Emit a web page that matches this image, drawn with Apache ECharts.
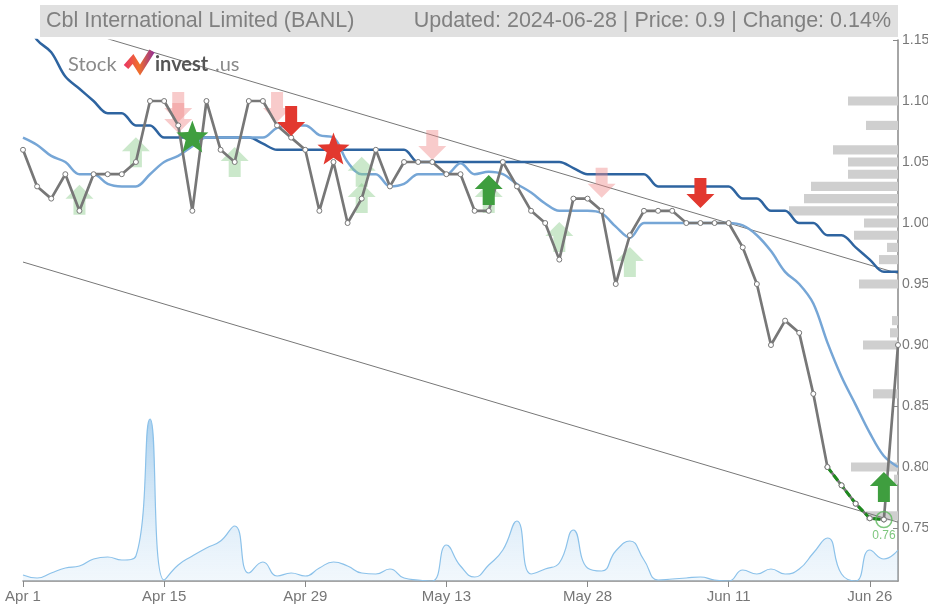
<!DOCTYPE html>
<html>
<head>
<meta charset="utf-8">
<script src="https://cdn.jsdelivr.net/npm/echarts@6/dist/echarts.min.js"></script>
<style>
  html, body { margin: 0; padding: 0; background: #fff; }
  #chart { width: 928px; height: 608px; }
</style>
</head>
<body>
<div id="chart"></div>
<script>
// === Данные
const dates = [
  'Apr 1', 'Apr 2', 'Apr 3', 'Apr 4', 'Apr 5', 'Apr 8', 'Apr 9', 'Apr 10', 'Apr 11', 'Apr 12',
  'Apr 15', 'Apr 16', 'Apr 17', 'Apr 18', 'Apr 19', 'Apr 22', 'Apr 23', 'Apr 24', 'Apr 25', 'Apr 26',
  'Apr 29', 'Apr 30', 'May 1', 'May 2', 'May 3', 'May 6', 'May 7', 'May 8', 'May 9', 'May 10',
  'May 13', 'May 14', 'May 15', 'May 16', 'May 17', 'May 20', 'May 21', 'May 22', 'May 23', 'May 24',
  'May 28', 'May 29', 'May 30', 'May 31', 'Jun 3', 'Jun 4', 'Jun 5', 'Jun 6', 'Jun 7', 'Jun 10',
  'Jun 11', 'Jun 12', 'Jun 13', 'Jun 14', 'Jun 17', 'Jun 18', 'Jun 20', 'Jun 21', 'Jun 24', 'Jun 25',
  'Jun 26', 'Jun 27', 'Jun 28'
];

const closePrices = [
  1.06, 1.03, 1.02, 1.04, 1.01, 1.04, 1.04, 1.04, 1.05, 1.10,
  1.10, 1.08, 1.01, 1.10, 1.06, 1.05, 1.10, 1.10, 1.08, 1.07,
  1.06, 1.01, 1.05, 1.00, 1.02, 1.06, 1.03, 1.05, 1.05, 1.05,
  1.04, 1.04, 1.01, 1.01, 1.05, 1.03, 1.01, 1.00, 0.97, 1.02,
  1.02, 1.01, 0.95, 0.99, 1.01, 1.01, 1.01, 1.00, 1.00, 1.00,
  1.00, 0.98, 0.95, 0.90, 0.92, 0.91, 0.86, 0.80, 0.785, 0.77,
  0.758, 0.757, 0.90
];

// верхняя линия (тёмно-синяя)
const upperLine = [
  1.17, 1.15, 1.14, 1.12, 1.11, 1.10, 1.09, 1.09, 1.08, 1.08,
  1.07, 1.07, 1.07, 1.07, 1.07, 1.07, 1.07, 1.065, 1.06, 1.06,
  1.06, 1.06, 1.06, 1.06, 1.06, 1.06, 1.06, 1.06, 1.05, 1.05,
  1.05, 1.05, 1.05, 1.05, 1.05, 1.05, 1.05, 1.05, 1.05, 1.045,
  1.04, 1.04, 1.04, 1.04, 1.04, 1.03, 1.03, 1.03, 1.03, 1.03,
  1.03, 1.02, 1.02, 1.01, 1.01, 1.00, 1.00, 0.99, 0.99, 0.98,
  0.97, 0.96, 0.96
];

// средняя линия (светло-синяя)
const middleLine = [
  1.07, 1.064, 1.055, 1.05, 1.04, 1.04, 1.032, 1.03, 1.03, 1.04,
  1.05, 1.055, 1.063, 1.07, 1.07, 1.07, 1.07, 1.07, 1.078, 1.08,
  1.08, 1.072, 1.07, 1.05, 1.04, 1.04, 1.03, 1.032, 1.04, 1.04,
  1.04, 1.049, 1.04, 1.042, 1.04, 1.032, 1.025, 1.016, 1.01, 1.01,
  1.01, 1.008, 0.997, 0.988, 1.00, 1.00, 1.00, 1.00, 1.00, 1.00,
  1.00, 0.998, 0.99, 0.977, 0.96, 0.95, 0.934, 0.902, 0.874, 0.851,
  0.828, 0.809, 0.80
];

// объём (тыс.)
const volumes = [
  6, 3, 8, 13, 15, 22, 24, 21, 25, 162,
  1, 16, 25, 33, 40, 55, 8, 19, 5, 8,
  5, 13, 19, 15, 8, 7, 12, 3, 1, 0,
  36, 15, 4, 16, 31, 60, 7, 12, 18, 51,
  13, 10, 30, 40, 21, 1, 2, 3, 4, 1,
  0, 11, 7, 12, 7, 12, 28, 43, 7, 0,
  31, 22, 31
];

// профиль объёма по ценам
const profilePrices = [1.10, 1.08, 1.06, 1.05, 1.04, 1.03, 1.02, 1.01, 1.00, 0.99, 0.98, 0.97, 0.95, 0.92, 0.91, 0.90, 0.86, 0.80, 0.79, 0.76];
const profileVolumes = [50, 32, 65, 50, 50, 87, 94, 109, 34, 44, 11, 19, 39, 6, 8, 35, 25, 47, 4, 32];

// трендовый канал
const channelTop = [[6, 1.151], [62, 0.9587]];
const channelBottom = [[0, 0.968], [62, 0.7548]];

// выделенный участок снижения
const dropStart = 57;
const dropEnd = 61;

// сигналы
const buyStrong = [[33, 1.027], [61, 0.7836]];
const buyWeak = [[4, 1.019], [8, 1.058], [15, 1.05], [24, 1.042], [24, 1.0205], [33, 1.0205], [38, 0.9885], [43, 0.968]];
const sellStrong = [[19, 1.0836], [48, 1.0246]];
const sellWeak = [[11, 1.095], [11, 1.086], [18, 1.095], [29, 1.064], [41, 1.033]];
const starBuy = [[12, 1.071]];
const starSell = [[22, 1.061]];
const lowPoint = [[61, 0.757]];

const yTicks = [0.75, 0.80, 0.85, 0.90, 0.95, 1.00, 1.05, 1.10, 1.15];

// === Символы
const ARROW_UP = 'path://M14,0 L28,14 L20,14 L20,30 L8,30 L8,14 L0,14 Z';
const ARROW_DOWN = 'path://M8,0 L20,0 L20,16 L28,16 L14,30 L0,16 L8,16 Z';

function starPath() {
  let d = '';
  for (let k = 0; k < 10; k++) {
    const r = k % 2 === 0 ? 50 : 21;
    const a = -Math.PI / 2 + k * Math.PI / 5;
    const x = (50 + r * Math.cos(a)).toFixed(1);
    const y = (50 + r * Math.sin(a)).toFixed(1);
    d += (k === 0 ? 'M' : 'L') + x + ',' + y + ' ';
  }
  return 'path://' + d + 'Z';
}
const STAR = starPath();

const dropData = closePrices.map((v, i) => (i >= dropStart && i <= dropEnd ? v : '-'));

function scatter(data, symbol, size, color, z) {
  return {
    type: 'scatter',
    data: data,
    symbol: symbol,
    symbolSize: size,
    itemStyle: { color: color, opacity: 1 },
    z: z,
    silent: true
  };
}

const chart = echarts.init(document.getElementById('chart'));

const option = {
  animation: false,
  textStyle: { fontFamily: 'Liberation Sans, Arial, sans-serif' },
  grid: { left: 23, right: 30, top: 40, bottom: 27, outerBoundsMode: 'none', containLabel: false },
  xAxis: [
    {
      type: 'category',
      data: dates,
      boundaryGap: false,
      axisLine: { lineStyle: { color: '#888', width: 1.5 } },
      axisTick: {
        length: 6,
        interval: (i) => i % 10 === 0,
        lineStyle: { color: '#888' }
      },
      axisLabel: {
        interval: (i) => i % 10 === 0,
        color: '#777',
        fontSize: 15,
        margin: 8
      },
      splitLine: { show: false }
    },
    {
      type: 'value',
      inverse: true,
      min: 0,
      max: 875,
      show: false
    }
  ],
  yAxis: [
    {
      type: 'value',
      position: 'right',
      min: 0.7066,
      max: 1.15,
      axisLine: { show: true, lineStyle: { color: '#888', width: 1.5 } },
      axisTick: {
        show: true,
        inside: true,
        length: 5,
        customValues: yTicks,
        lineStyle: { color: '#888' }
      },
      axisLabel: {
        customValues: yTicks,
        formatter: (v) => v.toFixed(2),
        color: '#777',
        fontSize: 14,
        margin: 4
      },
      splitLine: { show: false }
    },
    {
      type: 'value',
      min: 0,
      max: 541,
      show: false
    }
  ],
  graphic: [
    {
      type: 'rect',
      shape: { x: 40, y: 5, width: 858, height: 32 },
      style: { fill: '#e0e0e0' },
      z: 100
    },
    {
      type: 'text',
      x: 46, y: 21,
      style: {
        text: 'Cbl International Limited (BANL)',
        fill: '#808080',
        font: '21.5px "Liberation Sans", Arial, sans-serif',
        verticalAlign: 'middle'
      },
      z: 101
    },
    {
      type: 'text',
      x: 891, y: 21,
      style: {
        text: 'Updated: 2024-06-28 | Price: 0.9 | Change: 0.14%',
        fill: '#808080',
        font: '21.5px "Liberation Sans", Arial, sans-serif',
        align: 'right',
        verticalAlign: 'middle'
      },
      z: 101
    },
    {
      type: 'text',
      x: 68, y: 65,
      style: {
        text: 'Stock',
        fill: '#8a8a8a',
        font: '20px Lato, "Open Sans", sans-serif',
        verticalAlign: 'middle'
      },
      z: 101
    },
    {
      type: 'polyline',
      shape: { points: [[126, 67], [133, 59], [140, 70], [152, 51]] },
      style: {
        stroke: new echarts.graphic.LinearGradient(0, 0, 1, 0, [
          { offset: 0, color: '#e8306a' },
          { offset: 0.5, color: '#f0702a' },
          { offset: 1, color: '#8e2a9a' }
        ]),
        lineWidth: 6,
        lineJoin: 'miter',
        lineCap: 'butt',
        fill: null
      },
      z: 101
    },
    {
      type: 'text',
      x: 155, y: 65,
      style: {
        text: 'invest',
        fill: '#555',
        font: 'bold 20px Lato, "Open Sans", sans-serif',
        verticalAlign: 'middle'
      },
      z: 101
    },
    {
      type: 'text',
      x: 215, y: 65,
      style: {
        text: '.us',
        fill: '#8a8a8a',
        font: '20px Lato, "Open Sans", sans-serif',
        verticalAlign: 'middle'
      },
      z: 101
    }
  ],
  series: [
    // профиль объёма
    {
      type: 'custom',
      xAxisIndex: 1,
      yAxisIndex: 0,
      data: profilePrices.map((p, i) => [profileVolumes[i], p]),
      encode: { x: 0, y: 1 },
      silent: true,
      z: 1,
      renderItem: function (params, api) {
        const left = api.coord([api.value(0), api.value(1)]);
        const right = api.coord([0, api.value(1)]);
        const h = api.size([0, 0.0075])[1];
        return {
          type: 'rect',
          shape: { x: left[0], y: left[1] - h / 2, width: right[0] - left[0], height: h },
          style: { fill: '#cfcfcf' }
        };
      }
    },
    // объём
    {
      type: 'line',
      yAxisIndex: 1,
      data: volumes,
      smooth: 0.5,
      showSymbol: false,
      silent: true,
      z: 1,
      lineStyle: { color: '#8cc2ea', width: 1.2 },
      areaStyle: {
        color: new echarts.graphic.LinearGradient(0, 0, 0, 1, [
          { offset: 0, color: 'rgba(100,170,225,0.75)' },
          { offset: 1, color: 'rgba(200,225,245,0.35)' }
        ])
      }
    },
    // канал
    {
      type: 'line',
      data: channelTop,
      showSymbol: false,
      silent: true,
      z: 2,
      lineStyle: { color: '#777', width: 1 }
    },
    {
      type: 'line',
      data: channelBottom,
      showSymbol: false,
      silent: true,
      z: 2,
      lineStyle: { color: '#777', width: 1 }
    },
    // скользящие
    {
      type: 'line',
      data: upperLine,
      smooth: 0.35,
      showSymbol: false,
      silent: true,
      z: 3,
      lineStyle: { color: '#2e64a0', width: 2.5 }
    },
    {
      type: 'line',
      data: middleLine,
      smooth: 0.35,
      showSymbol: false,
      silent: true,
      z: 3,
      lineStyle: { color: '#76a6d6', width: 2.5 }
    },
    // слабые сигналы
    scatter(buyWeak, ARROW_UP, [28, 30], 'rgba(140,205,140,0.45)', 4),
    scatter(sellWeak, ARROW_DOWN, [28, 30], 'rgba(240,140,140,0.45)', 4),
    // цена закрытия
    {
      type: 'line',
      data: closePrices,
      symbol: 'circle',
      symbolSize: 5,
      silent: true,
      z: 5,
      lineStyle: { color: '#777', width: 2.7 },
      itemStyle: { color: '#fff', borderColor: '#777', borderWidth: 1 }
    },
    {
      type: 'line',
      data: dropData,
      symbol: 'circle',
      symbolSize: 5,
      silent: true,
      z: 6,
      lineStyle: { color: '#1e8a1e', width: 3, type: [7, 3] },
      itemStyle: { color: '#fff', borderColor: '#777', borderWidth: 1 }
    },
    // сильные сигналы
    scatter(buyStrong, ARROW_UP, [28, 30], '#3f9e3f', 7),
    scatter(sellStrong, ARROW_DOWN, [28, 30], '#e2382f', 7),
    scatter(starBuy, STAR, [32, 32], '#3f9e3f', 7),
    scatter(starSell, STAR, [32, 32], '#e2382f', 7),
    {
      type: 'scatter',
      data: lowPoint,
      symbol: 'circle',
      symbolSize: 16,
      silent: true,
      z: 8,
      itemStyle: { color: 'rgba(0,0,0,0)', borderColor: '#5cb85c', borderWidth: 1.5 },
      label: {
        show: true,
        position: 'bottom',
        distance: 1,
        formatter: (p) => p.value[1].toFixed(2),
        color: '#5cb85c',
        fontSize: 12
      }
    }
  ]
};

chart.setOption(option);
</script>
</body>
</html>
